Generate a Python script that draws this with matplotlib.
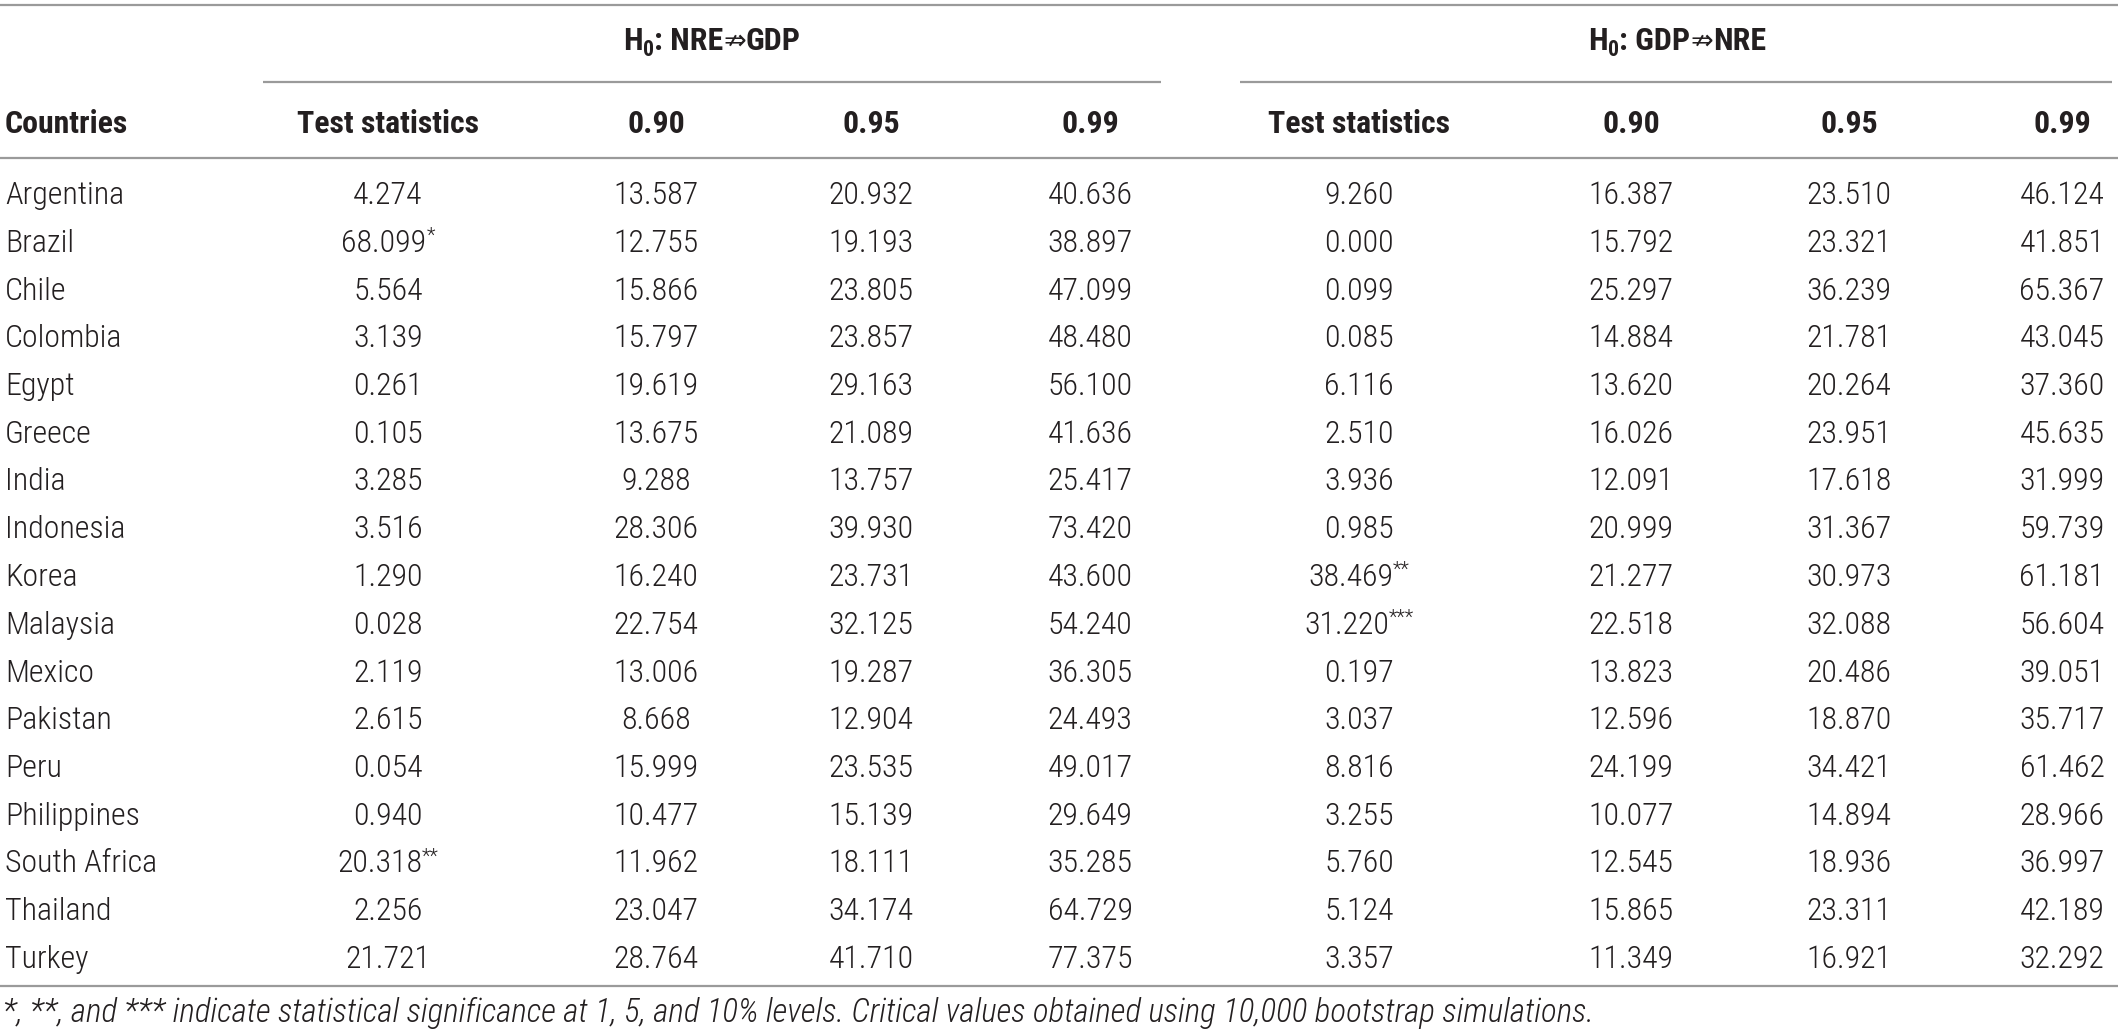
import matplotlib
matplotlib.use("Agg")
import matplotlib.pyplot as plt
from matplotlib import font_manager

# Table contents
countries = ["Argentina", "Brazil", "Chile", "Colombia", "Egypt", "Greece", "India",
             "Indonesia", "Korea", "Malaysia", "Mexico", "Pakistan", "Peru",
             "Philippines", "South Africa", "Thailand", "Turkey"]

# H0: NRE =/=> GDP
nre_test = ["4.274", "68.099", "5.564", "3.139", "0.261", "0.105", "3.285", "3.516", "1.290",
            "0.028", "2.119", "2.615", "0.054", "0.940", "20.318", "2.256", "21.721"]
nre_test_sig = ["", "*", "", "", "", "", "", "", "", "", "", "", "", "", "**", "", ""]
nre_090 = ["13.587", "12.755", "15.866", "15.797", "19.619", "13.675", "9.288", "28.306", "16.240",
           "22.754", "13.006", "8.668", "15.999", "10.477", "11.962", "23.047", "28.764"]
nre_095 = ["20.932", "19.193", "23.805", "23.857", "29.163", "21.089", "13.757", "39.930", "23.731",
           "32.125", "19.287", "12.904", "23.535", "15.139", "18.111", "34.174", "41.710"]
nre_099 = ["40.636", "38.897", "47.099", "48.480", "56.100", "41.636", "25.417", "73.420", "43.600",
           "54.240", "36.305", "24.493", "49.017", "29.649", "35.285", "64.729", "77.375"]

# H0: GDP =/=> NRE
gdp_test = ["9.260", "0.000", "0.099", "0.085", "6.116", "2.510", "3.936", "0.985", "38.469",
            "31.220", "0.197", "3.037", "8.816", "3.255", "5.760", "5.124", "3.357"]
gdp_test_sig = ["", "", "", "", "", "", "", "", "**", "***", "", "", "", "", "", "", ""]
gdp_090 = ["16.387", "15.792", "25.297", "14.884", "13.620", "16.026", "12.091", "20.999", "21.277",
           "22.518", "13.823", "12.596", "24.199", "10.077", "12.545", "15.865", "11.349"]
gdp_095 = ["23.510", "23.321", "36.239", "21.781", "20.264", "23.951", "17.618", "31.367", "30.973",
           "32.088", "20.486", "18.870", "34.421", "14.894", "18.936", "23.311", "16.921"]
gdp_099 = ["46.124", "41.851", "65.367", "43.045", "37.360", "45.635", "31.999", "59.739", "61.181",
           "56.604", "39.051", "35.717", "61.462", "28.966", "36.997", "42.189", "32.292"]

col_headers = ["Test statistics", "0.90", "0.95", "0.99",
               "Test statistics", "0.90", "0.95", "0.99"]
group_titles = [(": NRE", "GDP"), (": GDP", "NRE")]
footnote = ("*, **, and *** indicate statistical significance at 1, 5, and 10% levels. "
            "Critical values obtained using 10,000 bootstrap simulations.")

# Fonts: look for a narrow Helvetica-like face with static regular + bold files
fonts = font_manager.fontManager.ttflist


def has_face(name, weights, style="normal"):
    return any(f.name == name and "[" not in f.fname and f.weight in weights and f.style == style
               for f in fonts)


def usable(name):
    return has_face(name, (400, "normal", "regular")) and has_face(name, (700, "bold"))


candidates = ["Liberation Sans Narrow", "Arial Narrow", "Roboto Condensed", "PT Sans Narrow",
              "Asap Condensed", "Barlow Semi Condensed", "Liberation Sans"]
base = next((c for c in candidates if usable(c)), "DejaVu Sans")
FAM = [base, "DejaVu Sans"]
has_italic = any(f.name == base and f.style == "italic" and "[" not in f.fname for f in fonts)
FAM_IT = FAM if has_italic else ["Liberation Sans", "DejaVu Sans"]
# the reference body text is a light condensed grotesque
BODY_W = "light" if has_face(base, (300, "light")) else "normal"
FOOT_W = "light" if (has_italic and has_face(base, (300, "light"), "italic")) else "normal"

TXT = "#231f20"
LINE = "#9a9a9a"

W, H = 2118, 1035
fig = plt.figure(figsize=(W / 100, H / 100), dpi=100)
ax = fig.add_axes([0, 0, 1, 1])
ax.set_xlim(0, W)
ax.set_ylim(H, 0)
ax.axis("off")

# layout (pixels, measured on the reference)
col_x = [388, 656, 871, 1090, 1359, 1631, 1849, 2062]
group_x = [712, 1677]
group_lines = [(263, 1161), (1240, 2112)]
rule_y = [5, 158, 986]
group_rule_y = 82
title_base, header_base = 50, 133
row_base0, row_dy = 204, 47.75
foot_base = 1022
lw = 1.6

# rules
for yy in rule_y:
    ax.plot([0, W], [yy, yy], color=LINE, lw=lw, solid_capstyle="butt")
for x0, x1 in group_lines:
    ax.plot([x0, x1], [group_rule_y, group_rule_y], color=LINE, lw=lw, solid_capstyle="butt")

fig.canvas.draw()
renderer = fig.canvas.get_renderer()
inv = ax.transData.inverted()


def width_of(t):
    bb = t.get_window_extent(renderer)
    (xa, _), (xb, _) = inv.transform([[bb.x0, 0], [bb.x1, 0]])
    return xb - xa


def fit_size(s, target, **kw):
    # font size that makes string s about `target` pixels wide
    t = ax.text(0, 0, s, fontsize=20, **kw)
    w = width_of(t)
    t.remove()
    return 20 * target / w


FS = fit_size("Argentina", 119, family=FAM, fontweight=BODY_W)
FS_FOOT = fit_size(footnote, 1590, family=FAM_IT, style="italic", fontweight=FOOT_W)


def chain(parts, cx, cy):
    # parts: list of (text, size, weight, dy) drawn left to right, centered at cx
    arts = []
    for s, size, weight, dy in parts:
        t = ax.text(0, cy + dy, s, fontsize=size, fontweight=weight, family=FAM,
                    color=TXT, ha="left", va="baseline")
        arts.append(t)
    widths = [width_of(t) for t in arts]
    x = cx - sum(widths) / 2
    for t, w in zip(arts, widths):
        t.set_x(x)
        x += w
    return arts


# group titles: H0: X =/=> Y
for (a, b), gx in zip(group_titles, group_x):
    chain([("H", FS, "bold", 0), ("0", FS * 0.68, "bold", 6),
           (a, FS, "bold", 0), ("\u21cf", FS * 0.85, "normal", -1), (b, FS, "bold", 0)],
          gx, title_base)

# column headers
ax.text(5, header_base, "Countries", fontsize=FS, fontweight="bold", family=FAM,
        color=TXT, ha="left", va="baseline")
for h, x in zip(col_headers, col_x):
    ax.text(x, header_base, h, fontsize=FS, fontweight="bold", family=FAM,
            color=TXT, ha="center", va="baseline")

# body
columns = [(nre_test, nre_test_sig), (nre_090, None), (nre_095, None), (nre_099, None),
           (gdp_test, gdp_test_sig), (gdp_090, None), (gdp_095, None), (gdp_099, None)]
for i, c in enumerate(countries):
    yb = row_base0 + i * row_dy
    ax.text(5, yb, c, fontsize=FS, fontweight=BODY_W, family=FAM, color=TXT,
            ha="left", va="baseline")
    for (vals, sig), x in zip(columns, col_x):
        if sig is not None and sig[i]:
            chain([(vals[i], FS, BODY_W, 0), (sig[i], FS * 0.62, BODY_W, -10)], x, yb)
        else:
            ax.text(x, yb, vals[i], fontsize=FS, fontweight=BODY_W, family=FAM, color=TXT,
                    ha="center", va="baseline")

ax.text(3, foot_base, footnote, fontsize=FS_FOOT, style="italic", fontweight=FOOT_W,
        family=FAM_IT, color=TXT, ha="left", va="baseline")

fig.savefig("out.png", dpi=100)
